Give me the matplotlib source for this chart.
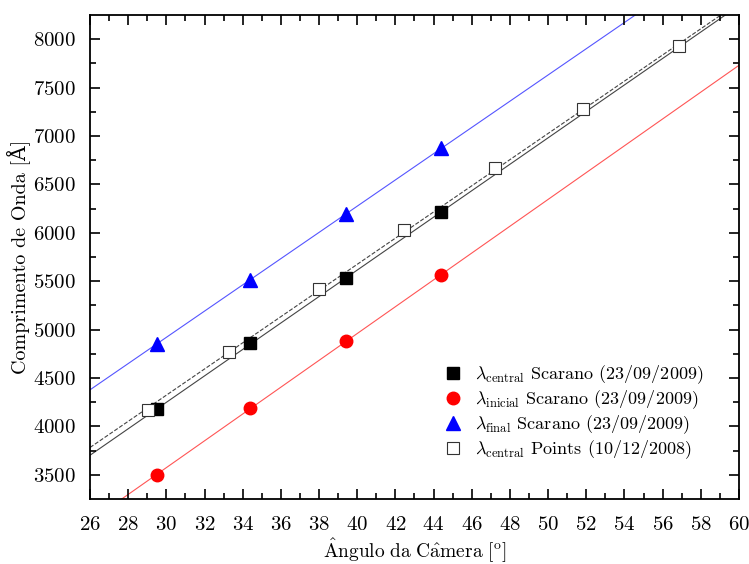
import matplotlib
matplotlib.use('Agg')
import matplotlib.pyplot as plt
import numpy as np

plt.rcParams['font.family'] = ['cmr10', 'DejaVu Serif']
plt.rcParams['mathtext.fontset'] = 'cm'
plt.rcParams['axes.unicode_minus'] = False
plt.rcParams['axes.formatter.use_mathtext'] = True

# Scarano (23/09/2009)
x_scarano = [29.5, 34.4, 39.4, 44.4]
lam_central = [4175, 4860, 5530, 6215]
lam_inicial = [3500, 4190, 4880, 5565]
lam_final = [4855, 5515, 6190, 6875]

# Points (10/12/2008)
x_points = [29.05, 33.3, 38.0, 42.45, 47.2, 51.85, 56.85]
lam_points = [4170, 4765, 5420, 6025, 6670, 7275, 7925]

fig = plt.figure(figsize=(7.49, 5.64), dpi=100)
ax = fig.add_axes([0.1202, 0.1152, 0.8664, 0.8582])

xx = np.array([26, 60])

# linear fits
for xs, ys, c, ls in [(x_scarano, lam_central, '#444444', '-'),
                      (x_scarano, lam_inicial, '#ff5555', '-'),
                      (x_scarano, lam_final, '#5555ff', '-'),
                      (x_points, lam_points, '#444444', '--')]:
    p = np.polyfit(xs, ys, 1)
    ax.plot(xx, np.polyval(p, xx), color=c, ls=ls, lw=0.8, zorder=1)

ax.plot(x_scarano, lam_central, 's', color='black', ms=8, ls='none',
        label=r'$\lambda_{\mathrm{central}}$ Scarano (23/09/2009)', zorder=3)
ax.plot(x_scarano, lam_inicial, 'o', color='red', ms=9, ls='none',
        label=r'$\lambda_{\mathrm{inicial}}$ Scarano (23/09/2009)', zorder=3)
ax.plot(x_scarano, lam_final, '^', color='blue', ms=10, ls='none',
        label=r'$\lambda_{\mathrm{final}}$ Scarano (23/09/2009)', zorder=3)
ax.plot(x_points, lam_points, 's', mfc='white', mec='#333333', mew=0.8, ms=8,
        ls='none', label=r'$\lambda_{\mathrm{central}}$ Points (10/12/2008)', zorder=3)

ax.set_xlim(26, 60)
ax.set_ylim(3250, 8250)
ax.set_xticks(np.arange(26, 61, 2))
ax.set_xticks(np.arange(27, 60, 2), minor=True)
ax.set_yticks(np.arange(3500, 8001, 500))
ax.set_yticks(np.arange(3750, 8250, 500), minor=True)
ax.tick_params(which='both', direction='in', top=True, right=True,
               labeltop=False, labelright=False, labelsize=15, width=1.2)
ax.tick_params(which='major', length=7)
ax.tick_params(axis='x', which='major', pad=12)
ax.tick_params(axis='y', which='major', pad=10)
ax.tick_params(which='minor', length=4)
for s in ax.spines.values():
    s.set_linewidth(1.3)

ax.set_xlabel(r'$\hat{\mathrm{A}}\mathrm{ngulo\ da\ C}\hat{\mathrm{a}}\mathrm{mera\ [^{o}]}$',
              fontsize=14, labelpad=2)
ax.set_ylabel('Comprimento de Onda [Å]', fontsize=14.5, labelpad=2)

leg = ax.legend(loc='upper left', bbox_to_anchor=(0.53, 0.295), frameon=False,
                fontsize=13, handletextpad=0.6, labelspacing=0.12, handlelength=1.3,
                borderaxespad=0)

plt.savefig('out.png', dpi=100)
plt.close()
